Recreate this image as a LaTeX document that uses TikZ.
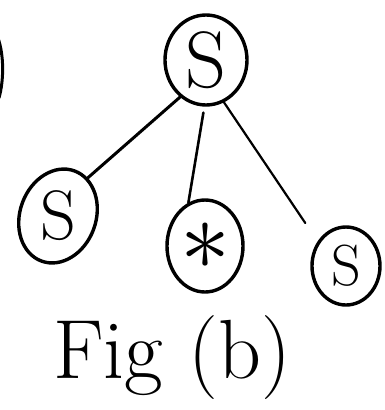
\documentclass[tikz,border=0pt]{standalone}
\usepackage{graphicx}
\usepackage{tikz}
\usetikzlibrary{shapes.geometric}

\begin{document}
\begin{tikzpicture}[x=1pt, y=-1pt,
    treenode/.style={draw, ellipse, line width=3.4pt, inner sep=0pt},
    branch/.style={line width=3pt, line cap=round}]

    \useasboundingbox (0,0) rectangle (385,410);

    % Root of the tree
    \node[treenode, minimum width=82pt, minimum height=90pt] (root) at (206,60) {\fontsize{80}{80}\selectfont S};

    % Left child
    \node[treenode, rotate=-20, minimum width=76pt, minimum height=96pt] (left) at (58,216) {\rotatebox{20}{\fontsize{70}{70}\selectfont S}};

    % Middle child
    \node[treenode, minimum width=76pt, minimum height=92pt] (mid) at (205,246) {\scalebox{10}{$\ast$}};

    % Right child
    \node[treenode, minimum width=68pt, minimum height=78pt] (right) at (346,266) {\fontsize{58}{58}\selectfont S};

    % Branches
    \draw[branch] (root.235) -- (left.72);
    \draw[branch, line width=2.6pt, shorten <=6pt] (root.268) -- (mid.111);
    \draw[branch, line width=2.2pt, shorten >=22pt] (root.293) -- (right.139);

    % Stroke cut off at the left edge
    \draw[line width=3pt] (-2,38) .. controls (4,55) and (4,80) .. (-1,98);

    % Caption
    \node[anchor=base] (caption) at (172,378) {\fontsize{84}{84}\selectfont Fig (b)};

\end{tikzpicture}
\end{document}
